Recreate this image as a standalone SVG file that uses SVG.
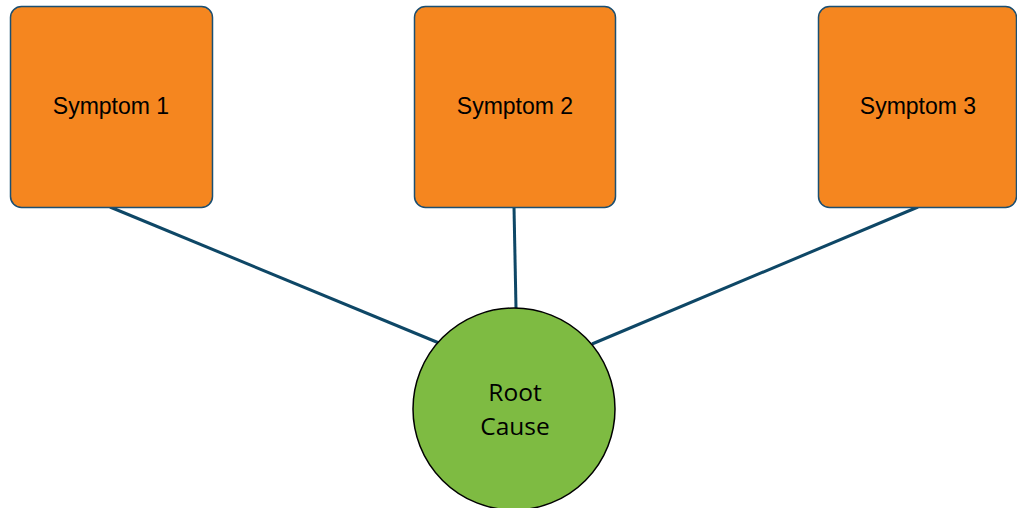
<svg xmlns="http://www.w3.org/2000/svg" width="1017" height="508" viewBox="0 0 1017 508">
<style>
.box{fill:#f5861f;stroke:#1b4f72;stroke-width:1.5}
.lbl{font-family:"Liberation Sans",Arial,sans-serif;font-size:23px;fill:#000;text-anchor:middle}
.root{font-family:"Open Sans","Noto Sans",sans-serif;font-size:24.5px;fill:#000;text-anchor:middle}
.conn{stroke:#0e4766;stroke-width:3;fill:none}
</style>
<rect width="1017" height="508" fill="#fff"/>
<g id="connectors">
<line class="conn" x1="110" y1="207" x2="439" y2="343"/>
<line class="conn" x1="514" y1="207" x2="516" y2="308"/>
<line class="conn" x1="918" y1="207" x2="592" y2="344"/>
</g>
<g id="symptom1"><rect class="box" x="10.5" y="6.5" width="202" height="201" rx="11"/><text class="lbl" x="111" y="114">Symptom 1</text></g>
<g id="symptom2"><rect class="box" x="414.5" y="6.5" width="201" height="201" rx="11"/><text class="lbl" x="515" y="114">Symptom 2</text></g>
<g id="symptom3"><rect class="box" x="818.5" y="6.5" width="198" height="201" rx="11"/><text class="lbl" x="918" y="114">Symptom 3</text></g>
<g id="root"><circle cx="514" cy="409" r="101" fill="#7ebb42" stroke="#000" stroke-width="1.5"/><text class="root" x="515" y="401">Root</text><text class="root" x="515" y="435">Cause</text></g>
</svg>
